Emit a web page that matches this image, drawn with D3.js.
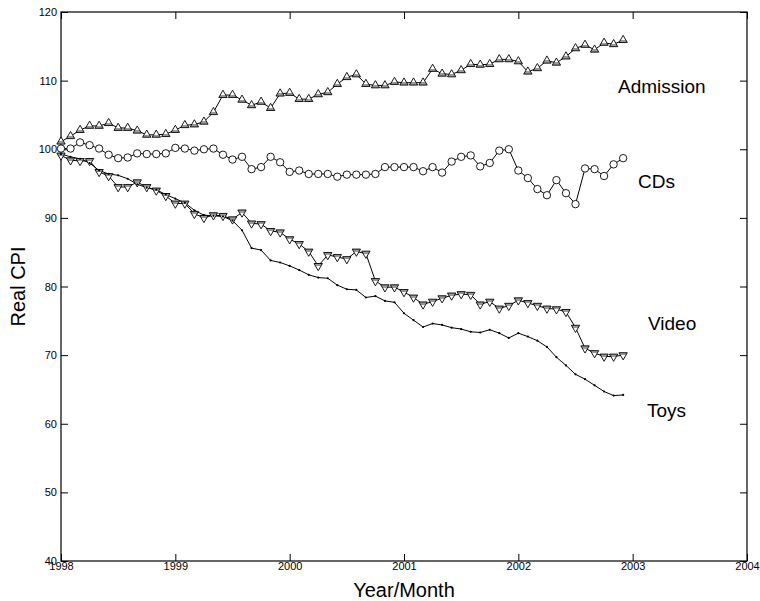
<!DOCTYPE html>
<html>
<head>
<meta charset="utf-8">
<script src="https://d3js.org/d3.v7.min.js"></script>
<style>
  body { margin: 0; background: #fff; }
  text { font-family: "Liberation Sans", Arial, sans-serif; fill: #000; }
</style>
<title>Real CPI</title>
</head>
<body>
<div id="plot"></div>
<script>

// monthly values, Jan 1998 .. Dec 2002
const startYear = 1998;
const admission = [101.1, 101.9, 102.8, 103.4, 103.4, 103.8, 103.1, 103.1, 102.7, 102.1,
  102.1, 102.2, 102.8, 103.5, 103.6, 104.0, 105.4, 107.9, 107.9, 107.2,
  106.4, 106.9, 106.0, 108.1, 108.2, 107.3, 107.3, 108.0, 108.3, 109.5,
  110.5, 110.9, 109.5, 109.3, 109.3, 109.8, 109.7, 109.7, 109.7, 111.7,
  111.0, 110.9, 111.5, 112.4, 112.3, 112.4, 113.1, 113.1, 112.8, 111.3,
  111.8, 112.9, 112.6, 113.5, 114.7, 115.2, 114.5, 115.5, 115.3, 115.9];
const cds = [100.1, 100.1, 101.0, 100.6, 100.1, 99.2, 98.7, 98.8, 99.4, 99.3,
  99.3, 99.4, 100.2, 100.1, 99.8, 100.0, 100.1, 99.2, 98.5, 98.9,
  97.1, 97.4, 98.9, 98.1, 96.7, 96.9, 96.4, 96.4, 96.4, 96.0,
  96.3, 96.3, 96.3, 96.4, 97.4, 97.4, 97.4, 97.4, 96.8, 97.4,
  96.6, 98.2, 98.9, 99.1, 97.5, 98.0, 99.8, 100.0, 96.9, 95.8,
  94.2, 93.3, 95.5, 93.6, 92.0, 97.2, 97.1, 96.1, 97.8, 98.7];
const video = [99.1, 98.4, 98.3, 98.3, 96.7, 96.1, 94.5, 94.5, 95.2, 94.5,
  94.0, 93.2, 92.1, 92.1, 90.6, 90.0, 90.4, 90.3, 89.8, 90.8,
  89.2, 89.1, 88.1, 87.9, 86.9, 86.2, 85.1, 83.0, 84.6, 84.3,
  84.0, 85.1, 84.8, 80.8, 79.9, 79.9, 79.2, 78.4, 77.4, 77.8,
  78.3, 78.7, 78.9, 78.8, 77.4, 77.8, 76.8, 77.2, 78.0, 77.6,
  77.2, 76.8, 76.7, 76.3, 74.0, 71.0, 70.3, 69.8, 69.8, 70.0];
const toys = [99.3, 98.9, 98.6, 98.0, 96.9, 96.4, 96.2, 95.7, 94.9, 94.4,
  94.1, 93.4, 92.8, 92.2, 91.1, 90.4, 90.3, 90.2, 89.6, 88.2,
  85.6, 85.3, 83.8, 83.5, 83.0, 82.4, 81.7, 81.3, 81.2, 80.2,
  79.6, 79.5, 78.4, 78.6, 77.9, 77.7, 76.1, 75.1, 74.1, 74.6,
  74.4, 74.0, 73.8, 73.4, 73.3, 73.7, 73.2, 72.5, 73.2, 72.7,
  72.1, 71.2, 69.7, 68.5, 67.2, 66.5, 65.6, 64.7, 64.1, 64.2];

const xTicks = [1998, 1999, 2000, 2001, 2002, 2003, 2004];
const yTicks = [40, 50, 60, 70, 80, 90, 100, 110, 120];

// plot box
const W = 760, H = 601;
const pLeft = 61, pRight = 747, pTop = 12, pBottom = 561;

const svg = d3.select("#plot")
  .append("svg")
    .attr("width", W)
    .attr("height", H);

// triangle fill: white with a grey base, like the old printer output
const grad = svg.append("defs").append("linearGradient")
  .attr("id", "triFill")
  .attr("x1", 0).attr("y1", 0).attr("x2", 0).attr("y2", 1);
grad.append("stop").attr("offset", "0.62").attr("stop-color", "#fff");
grad.append("stop").attr("offset", "0.62").attr("stop-color", "#999");

const x = d3.scaleLinear().domain([1998, 2004]).range([pLeft, pRight]);
const y = d3.scaleLinear().domain([40, 120]).range([pBottom, pTop]);

const tick = 7;

// axes, ticks pointing inward
svg.append("g")
  .attr("transform", "translate(0," + pBottom + ")")
  .call(d3.axisBottom(x).tickValues(xTicks).tickFormat(d3.format("d"))
    .tickSizeInner(-tick).tickSizeOuter(0).tickPadding(1))
  .call(g => g.selectAll("text").style("font-size", "11px"));

svg.append("g")
  .attr("transform", "translate(" + pLeft + ",0)")
  .call(d3.axisLeft(y).tickValues(yTicks)
    .tickSizeInner(-tick).tickSizeOuter(0).tickPadding(4))
  .call(g => g.selectAll("text").style("font-size", "11px"));

svg.append("g")
  .attr("transform", "translate(0," + pTop + ")")
  .call(d3.axisTop(x).tickValues(xTicks).tickFormat("")
    .tickSizeInner(-tick).tickSizeOuter(0));

svg.append("g")
  .attr("transform", "translate(" + pRight + ",0)")
  .call(d3.axisRight(y).tickValues(yTicks).tickFormat("")
    .tickSizeInner(-tick).tickSizeOuter(0));

svg.selectAll(".domain").remove();
svg.selectAll(".tick line").attr("stroke", "#000");

// frame
svg.append("rect")
  .attr("x", pLeft).attr("y", pTop)
  .attr("width", pRight - pLeft).attr("height", pBottom - pTop)
  .attr("fill", "none")
  .attr("stroke", "#000")
  .attr("stroke-width", 1.2);

const month = (d, i) => x(startYear + i / 12);

const line = d3.line()
  .x(month)
  .y(d => y(d));

function drawLine(values) {
  svg.append("path")
    .datum(values)
    .attr("d", line)
    .attr("fill", "none")
    .attr("stroke", "#000")
    .attr("stroke-width", 1);
}

[admission, cds, video, toys].forEach(drawLine);

// markers
const tri = d3.symbol(d3.symbolTriangle, 30);

svg.append("g").selectAll("path")
  .data(admission)
  .enter().append("path")
    .attr("d", tri)
    .attr("transform", (d, i) => "translate(" + month(d, i) + "," + y(d) + ")")
    .attr("fill", "url(#triFill)")
    .attr("stroke", "#000")
    .attr("stroke-width", 0.9);

svg.append("g").selectAll("path")
  .data(video)
  .enter().append("path")
    .attr("d", tri)
    .attr("transform", (d, i) => "translate(" + month(d, i) + "," + y(d) + ") rotate(180)")
    .attr("fill", "url(#triFill)")
    .attr("stroke", "#000")
    .attr("stroke-width", 0.9);

svg.append("g").selectAll("circle")
  .data(cds)
  .enter().append("circle")
    .attr("cx", month)
    .attr("cy", d => y(d))
    .attr("r", 3.7)
    .attr("fill", "#fff")
    .attr("stroke", "#000")
    .attr("stroke-width", 0.9);

svg.append("g").selectAll("circle")
  .data(toys)
  .enter().append("circle")
    .attr("cx", month)
    .attr("cy", d => y(d))
    .attr("r", 1.1)
    .attr("fill", "#000");

// series labels
const labels = [
  { text: "Admission", x: 618, y: 93 },
  { text: "CDs", x: 638, y: 188 },
  { text: "Video", x: 648, y: 330 },
  { text: "Toys", x: 647, y: 417 }
];
svg.selectAll(".lab")
  .data(labels)
  .enter().append("text")
    .attr("class", "lab")
    .attr("x", d => d.x)
    .attr("y", d => d.y)
    .style("font-size", "19px")
    .text(d => d.text);

// axis titles
svg.append("text")
  .attr("x", (pLeft + pRight) / 2)
  .attr("y", 597)
  .attr("text-anchor", "middle")
  .style("font-size", "20px")
  .text("Year/Month");

svg.append("text")
  .attr("transform", "translate(25," + ((pTop + pBottom) / 2) + ") rotate(-90)")
  .attr("text-anchor", "middle")
  .style("font-size", "20px")
  .text("Real CPI");

</script>
</body>
</html>
